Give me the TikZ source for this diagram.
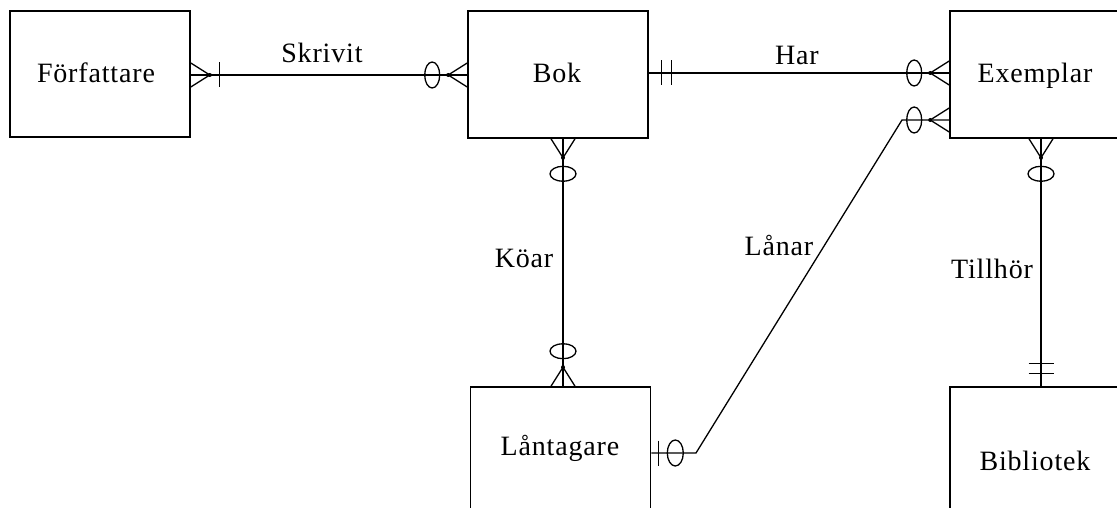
\documentclass[tikz,border=0pt]{standalone}
\usepackage{fontspec}
\setmainfont[LetterSpace=3]{Liberation Serif}
\newcommand{\crowfootdraw}{%
  \draw[conn] (0,12) -- (19,0) -- (0,-12);
  \fill (19,0) circle (2);}
\tikzset{
  entity/.style={draw, line width=1.6pt, minimum width=180pt, inner sep=0pt},
  lbl/.style={font=\fontsize{28}{32}\selectfont, anchor=base, inner sep=0pt},
  conn/.style={line width=1.3pt},
  pics/zeromany/.style={code={
    \crowfootdraw
    \draw[conn] (35,0) ellipse [x radius=7.5, y radius=13];}},
  pics/onemany/.style={code={
    \crowfootdraw
    \draw[conn] (29,-12.5) -- (29,12.5);}},
  pics/oneone/.style={code={
    \draw[conn] (13,-12.5) -- (13,12.5);
    \draw[conn] (23,-12.5) -- (23,12.5);}},
  pics/zeroone/.style={code={
    \draw[conn] (7,-12.5) -- (7,12.5);
    \draw[conn] (24,0) ellipse [x radius=8, y radius=13];}}
}
\begin{document}
\begin{tikzpicture}[x=1pt,y=-1pt]
\useasboundingbox (0,0) rectangle (1117,508);
\clip (0,0) rectangle (1117,508);
\fill[white] (0,0) rectangle (1117,508);

% entities
\node[entity, minimum height=126pt] (forf) at (100,74) {};
\node[entity, minimum height=127pt] (bok) at (558,74.5) {};
\node[entity, minimum height=127pt] (exemplar) at (1040,74.5) {};
\node[entity, minimum height=153pt] (lantagare) at (560.5,463.5) {};
\node[entity, minimum height=153pt] (bibliotek) at (1040,463.5) {};

% entity names
\node[lbl] (forf-t) at (96,83) {Författare};
\node[lbl] (bok-t) at (557,83) {Bok};
\node[lbl] (exemplar-t) at (1035,83) {Exemplar};
\node[lbl] (lantagare-t) at (560,455) {Låntagare};
\node[lbl] (bibliotek-t) at (1035,470) {Bibliotek};

% Skrivit
\draw[conn] (forf.east |- 0,75) -- (bok.west |- 0,75);
\pic at (forf.east |- 0,75) {onemany};
\pic[rotate=180] at (bok.west |- 0,75) {zeromany};
\node[lbl] (skrivit) at (322,63) {Skrivit};

% Har
\draw[conn] (bok.east |- 0,73) -- (exemplar.west |- 0,73);
\pic at (bok.east |- 0,73) {oneone};
\pic[rotate=180] at (exemplar.west |- 0,73) {zeromany};
\node[lbl] (har) at (797,65) {Har};

% Köar
\draw[conn] (bok.south -| 563,0) -- (lantagare.north -| 563,0);
\pic[rotate=-90] at (bok.south -| 563,0) {zeromany};
\pic[rotate=90] at (lantagare.north -| 563,0) {zeromany};
\node[lbl] (koar) at (524,267) {Köar};

% Lånar
\coordinate (ln1) at (696,453);
\coordinate (ln2) at (902,120);
\draw[conn] (lantagare.east |- ln1) -- (ln1) -- (ln2) -- (exemplar.west |- ln2);
\pic at (lantagare.east |- ln1) {zeroone};
\pic[rotate=180] at (exemplar.west |- ln2) {zeromany};
\node[lbl] (lanar) at (779,255) {Lånar};

% Tillhör
\draw[conn] (exemplar.south -| 1041,0) -- (bibliotek.north -| 1041,0);
\pic[rotate=-90] at (exemplar.south -| 1041,0) {zeromany};
\pic[rotate=90] at (bibliotek.north -| 1041,0) {oneone};
\node[lbl] (tillhor) at (992,278) {Tillhör};
\end{tikzpicture}
\end{document}
